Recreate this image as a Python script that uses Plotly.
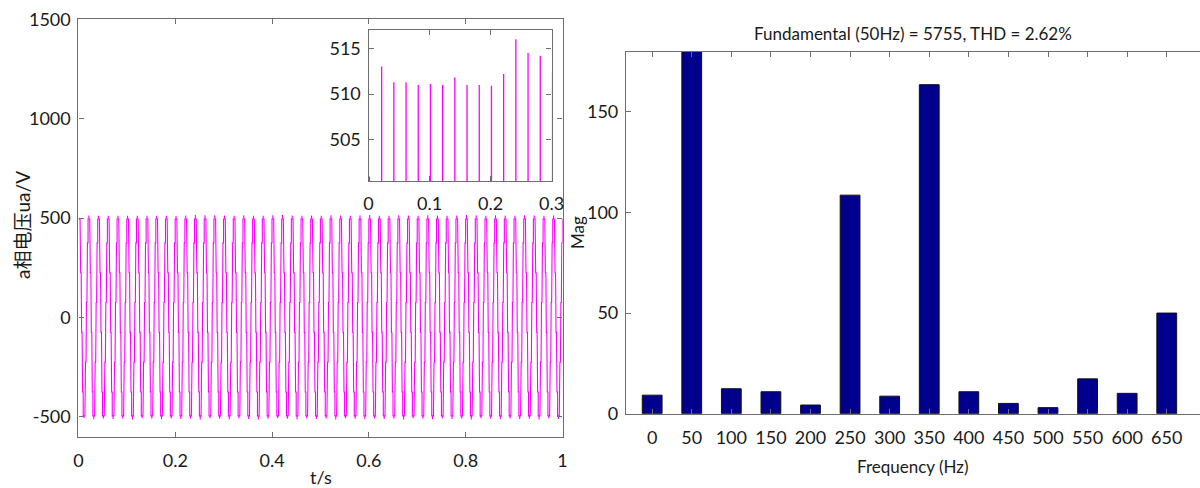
import plotly.graph_objects as go

# ---------------- data ----------------
# Waveform: a 50 Hz staircase voltage (period 0.02 s), peaks near t = 0.02k
PERIOD = 0.02
PEAK_OFFSET = 0.0015
TOP_LEVEL = 495
# staircase steps within one period (phase fraction after the positive peak -> new level)
STEP_PHASE = [0.087, 0.150, 0.2025, 0.25, 0.2975, 0.35, 0.4126,
              0.5874, 0.65, 0.7025, 0.75, 0.7975, 0.85, 0.9126]
STEP_LEVEL = [375, 225, 75, -75, -225, -375, -495,
              -375, -225, -75, 75, 225, 375, 495]
# positive peak of each cycle (V), read from the inset / estimated
POS_PEAKS = [501.0, 513.0, 511.3, 511.3, 511.0, 511.1, 511.0, 511.8, 511.0, 511.0,
             510.9, 512.2, 516.0, 514.5, 514.2, 512.5, 511.5, 513.8, 512.0, 511.2,
             514.0, 515.2, 512.8, 511.6, 513.1, 511.9, 514.6, 512.3, 511.4, 513.5,
             515.0, 512.1, 511.7, 513.9, 512.6, 511.3, 514.3, 512.9, 511.8, 513.2,
             515.4, 512.4, 511.5, 513.6, 512.2, 511.9, 514.1, 512.7, 511.6, 513.4]
# negative peak of each cycle (V), estimated
NEG_PEAKS = [-506, -512, -508, -511, -509, -513, -507, -510, -512, -508,
             -511, -509, -514, -507, -510, -512, -508, -511, -513, -509,
             -507, -510, -512, -508, -511, -509, -513, -507, -510, -512,
             -508, -511, -509, -514, -507, -510, -512, -508, -511, -509,
             -513, -507, -510, -512, -508, -511, -509, -513, -507, -510]

LEFT_X_TICKS = [0, 0.2, 0.4, 0.6, 0.8, 1]
LEFT_X_LABELS = ["0", "0.2", "0.4", "0.6", "0.8", "1"]
LEFT_Y_TICKS = [-500, 0, 500, 1000, 1500]
LEFT_Y_LABELS = ["-500", "0", "500", "1000", "1500"]
INSET_X_TICKS = [0, 0.1, 0.2, 0.3]
INSET_X_LABELS = ["0", "0.1", "0.2", "0.3"]
INSET_Y_TICKS = [505, 510, 515]

# FFT spectrum
FREQ_HZ = [0, 50, 100, 150, 200, 250, 300, 350, 400, 450, 500, 550, 600, 650]
MAG = [9.2, 5755, 12.4, 10.9, 4.3, 108.6, 8.7, 163.5, 10.9, 5.1, 3.0, 17.3, 10.1, 50.0]
RIGHT_Y_TICKS = [0, 50, 100, 150]

TITLE = "Fundamental (50Hz) = 5755, THD = 2.62%"

# ---------------- build waveform vertices from the read values ----------------
SPIKE_W = 0.0001
ts, vs = [0.0], [TOP_LEVEL]
for k in range(len(POS_PEAKS)):
    t0 = k * PERIOD + PEAK_OFFSET
    ts += [t0, t0, t0 + SPIKE_W]
    vs += [TOP_LEVEL, POS_PEAKS[k], TOP_LEVEL]
    level = TOP_LEVEL
    trough_done = False
    for ph, lv in zip(STEP_PHASE, STEP_LEVEL):
        if ph > 0.5 and not trough_done:
            tt = t0 + 0.5 * PERIOD
            ts += [tt, tt, tt + SPIKE_W]
            vs += [-TOP_LEVEL, NEG_PEAKS[k], -TOP_LEVEL]
            trough_done = True
        t = t0 + ph * PERIOD
        ts += [t, t]
        vs += [level, lv]
        level = lv
xs, ys = [], []
for t, v in zip(ts, vs):
    if t <= 1.0:
        xs.append(t)
        ys.append(v)
xs.append(1.0)
ys.append(ys[-1])

FONT = "Lato, Noto Sans CJK SC, sans-serif"
AX = "#6e6e6e"

fig = go.Figure()
fig.add_trace(go.Scatter(x=xs, y=ys, mode="lines", line=dict(color="#ff00ff", width=1.1),
                         xaxis="x", yaxis="y", showlegend=False))
fig.add_trace(go.Scatter(x=xs, y=ys, mode="lines", line=dict(color="#ff00ff", width=1.3),
                         xaxis="x2", yaxis="y2", showlegend=False))
fig.add_trace(go.Bar(x=FREQ_HZ, y=MAG, width=25, marker=dict(color="#00008c",
                     line=dict(color="#111111", width=1)),
                     xaxis="x3", yaxis="y3", showlegend=False))

common = dict(showline=True, linecolor=AX, linewidth=1.3, ticks="inside",
              tickcolor=AX, ticklen=5, showgrid=False, zeroline=False, automargin=False,
              tickfont=dict(family=FONT, size=18, color="#1a1a1a"))

def ann(text, x, y, size, angle=0):
    return dict(text=text, x=x / 1200, y=1 - y / 488, xref="paper", yref="paper",
                xanchor="center", yanchor="middle", textangle=angle, showarrow=False,
                font=dict(family=FONT, size=size, color="#1a1a1a"))

fig.update_layout(
    width=1200, height=488, autosize=False,
    margin=dict(l=0, r=0, t=0, b=0, pad=0),
    paper_bgcolor="white", plot_bgcolor="white",
    xaxis=dict(domain=[0.0654, 0.4688], range=[0, 1], anchor="y", mirror="ticks",
               tickvals=LEFT_X_TICKS, ticktext=LEFT_X_LABELS, ticklabelstandoff=8, **common),
    yaxis=dict(domain=[0.1051, 0.9605], range=[-600, 1500], anchor="x", mirror="ticks",
               tickvals=LEFT_Y_TICKS, ticktext=LEFT_Y_LABELS, ticklabelstandoff=3, **common),
    xaxis2=dict(domain=[0.3071, 0.4596], range=[0, 0.3], anchor="y2", mirror="ticks",
                tickvals=INSET_X_TICKS, ticktext=INSET_X_LABELS, ticklabelstandoff=6, **common),
    yaxis2=dict(domain=[0.6291, 0.9385], range=[500.5, 517], anchor="x2", mirror="ticks",
                tickvals=INSET_Y_TICKS, ticklabelstandoff=3, **common),
    xaxis3=dict(domain=[0.5217, 1.0], range=[-33, 692], anchor="y3", mirror="ticks",
                tickvals=FREQ_HZ, ticklabelstandoff=8, **common),
    yaxis3=dict(domain=[0.1523, 0.8941], range=[0, 179.9], anchor="x3",
                tickvals=RIGHT_Y_TICKS, ticklabelstandoff=3, **common),
    annotations=[
        ann("t/s", 320.5, 477, 18),
        ann("a相电压ua/V", 22, 225, 19, -90),
        ann("Mag", 577, 233, 17, -90),
        ann("Frequency (Hz)", 913, 466, 17),
        ann(TITLE, 913, 33, 17),
    ],
)

fig.write_html("out.html", config={"displayModeBar": False},
               post_script="document.body.style.margin='0';")
